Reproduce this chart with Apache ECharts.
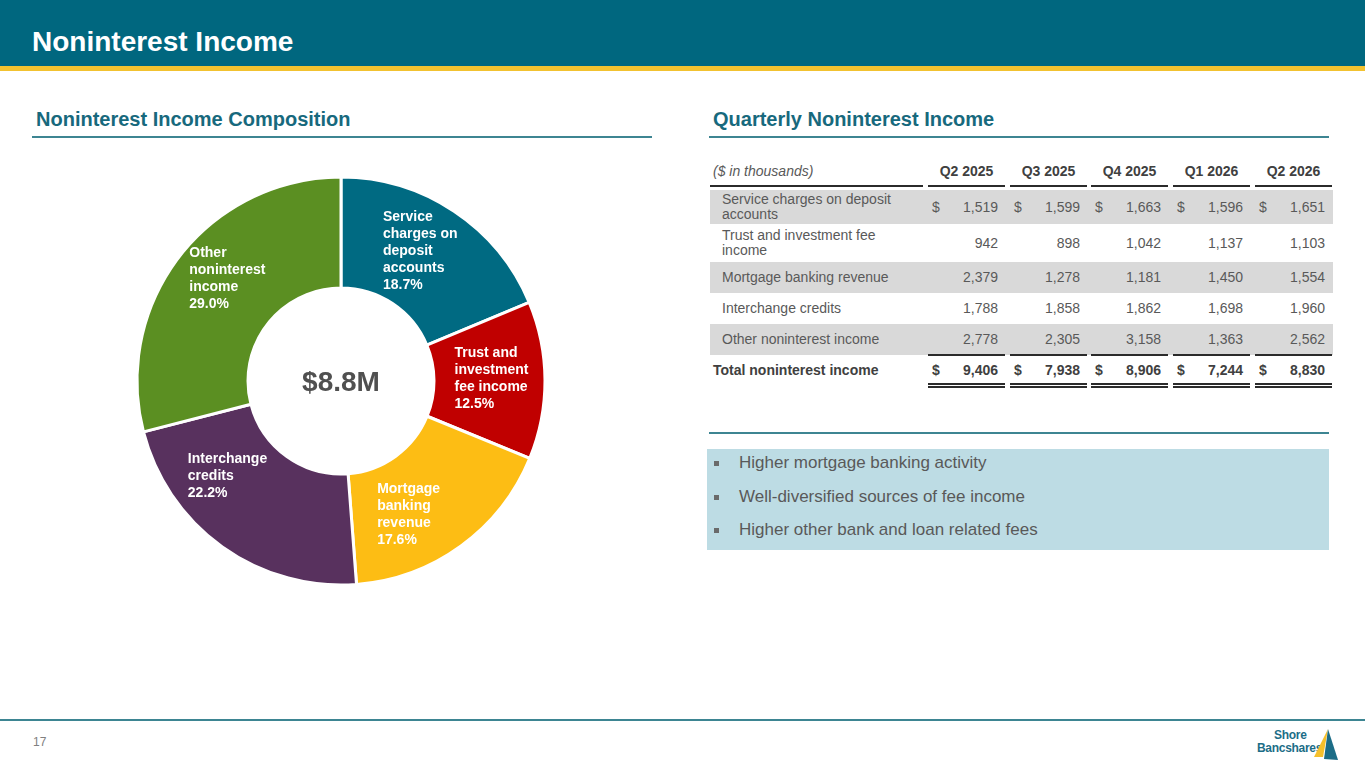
<!DOCTYPE html>
<html lang="en">
<head>
    <meta charset="UTF-8">
    <title>Noninterest Income</title>
    <script src="https://cdn.jsdelivr.net/npm/echarts@6/dist/echarts.min.js"></script>
    <style>
        body {
            margin: 0;
            width: 1365px;
            height: 768px;
            overflow: hidden;
            position: relative;
            background: #fff;
            font-family: 'Liberation Sans', Arial, sans-serif;
        }
        .abs { position: absolute; }
        #header { left: 0; top: 0; width: 1365px; height: 66px; background: #00677f; }
        #stripe { left: 0; top: 66px; width: 1365px; height: 5px; background: #f2c230; }
        #title { left: 32px; top: 22px; line-height: 40px; font-size: 28px; font-weight: bold; color: #fff; }
        .subtitle { top: 107px; line-height: 24px; font-size: 20px; font-weight: bold; color: #17697d; }
        .rule { height: 2px; background: #3d8592; }
        #pie { left: 0; top: 71px; width: 690px; height: 640px; }
        .cell { position: absolute; font-size: 14px; color: #595959; white-space: nowrap; }
        .hline { position: absolute; height: 2px; background: #2b2b2b; }
        .gray { position: absolute; background: #d9d9d9; }
        #note { left: 707px; top: 449px; width: 622px; height: 101px; background: #bddce4; }
        .bullet { position: absolute; font-size: 17px; color: #595959; line-height: 22px; white-space: nowrap; }
        .sq { position: absolute; width: 5px; height: 5px; background: #6a6a6a; }
        #pageno { left: 33px; top: 735px; font-size: 12px; color: #808080; }
        .logo { position: absolute; font-weight: bold; color: #1c6d87; font-size: 12px; letter-spacing: -0.3px; }
    </style>
</head>
<body>
    <div class="abs" id="header"></div>
    <div class="abs" id="stripe"></div>
    <div class="abs" id="title">Noninterest Income</div>

    <div class="abs subtitle" style="left:36px;">Noninterest Income Composition</div>
    <div class="abs rule" style="left:32px; top:136px; width:620px;"></div>
    <div class="abs subtitle" style="left:713px;">Quarterly Noninterest Income</div>
    <div class="abs rule" style="left:709px; top:136px; width:620px;"></div>

    <div class="abs" id="pie"></div>
    <div class="abs" id="table"></div>

    <div class="abs rule" style="left:709px; top:432px; width:620px;"></div>
    <div class="abs" id="note"></div>

    <div class="abs rule" style="left:0; top:719px; width:1365px;"></div>
    <div class="abs" id="pageno">17</div>
    <div class="logo" style="left:1274px; top:728px;">Shore</div>
    <div class="logo" style="left:1257px; top:741px;">Bancshares</div>
    <svg class="abs" style="left:1310px; top:726px;" width="30" height="36">
        <polygon points="18,3 4,31 13,31" fill="#f5c02c"/>
        <polygon points="18,3 14,33 28,34" fill="#1c6d87"/>
    </svg>

    <script>
        // 表格数据 ($ in thousands)
        var quarters = ['Q2 2025', 'Q3 2025', 'Q4 2025', 'Q1 2026', 'Q2 2026'];
        var rowNames = ['Service charges on deposit accounts', 'Trust and investment fee income',
                        'Mortgage banking revenue', 'Interchange credits', 'Other noninterest income'];
        var serviceCharges = [1519, 1599, 1663, 1596, 1651];
        var trustFees = [942, 898, 1042, 1137, 1103];
        var mortgageRevenue = [2379, 1278, 1181, 1450, 1554];
        var interchangeCredits = [1788, 1858, 1862, 1698, 1960];
        var otherIncome = [2778, 2305, 3158, 1363, 2562];
        var totalIncome = [9406, 7938, 8906, 7244, 8830];

        // 饼图标签
        var pieLabels = ['Service\ncharges on\ndeposit\naccounts', 'Trust and\ninvestment\nfee income',
                         'Mortgage\nbanking\nrevenue', 'Interchange\ncredits', 'Other\nnoninterest\nincome'];
        var bullets = ['Higher mortgage banking activity', 'Well-diversified sources of fee income',
                       'Higher other bank and loan related fees'];

        var rows = [serviceCharges, trustFees, mortgageRevenue, interchangeCredits, otherIncome];

        // ---- 表格 ----
        var table = document.getElementById('table');
        function add(cls, css, text, parent) {
            var d = document.createElement('div');
            d.className = cls;
            d.style.cssText = css;
            if (text != null) d.textContent = text;
            (parent || table).appendChild(d);
            return d;
        }
        function fmt(v) { return v.toLocaleString('en-US'); }

        var colLeft = [928, 1010, 1091, 1173, 1255];
        var colW = 77;
        var rowTop = [190, 224, 262, 293, 324];
        var rowH = [34, 38, 31, 31, 31];

        // 表头
        add('cell', 'left:713px; top:163px; font-style:italic;', '($ in thousands)');
        add('hline', 'left:710px; top:185px; width:213px;');
        quarters.forEach(function(q, i) {
            add('cell', 'left:' + colLeft[i] + 'px; top:163px; width:' + colW + 'px; text-align:center; font-weight:bold; color:#404040;', q);
            add('hline', 'left:' + colLeft[i] + 'px; top:185px; width:' + colW + 'px;');
        });

        rows.forEach(function(vals, r) {
            var top = rowTop[r], h = rowH[r];
            if (r % 2 === 0) add('gray', 'left:710px; top:' + top + 'px; width:623px; height:' + h + 'px;');
            var lbl = add('cell', 'left:722px; top:' + top + 'px; width:185px; height:' + h + 'px; white-space:normal; line-height:15px; display:flex; align-items:center;');
            lbl.textContent = rowNames[r];
            vals.forEach(function(v, i) {
                var css = 'top:' + top + 'px; height:' + h + 'px; line-height:' + h + 'px;';
                if (r === 0) add('cell', css + 'left:' + (colLeft[i] + 4) + 'px;', '$');
                add('cell', css + 'left:' + colLeft[i] + 'px; width:' + (colW - 7) + 'px; text-align:right;', fmt(v));
            });
        });

        // 合计
        quarters.forEach(function(q, i) {
            add('hline', 'left:' + colLeft[i] + 'px; top:354px; width:' + colW + 'px;');
            add('hline', 'left:' + colLeft[i] + 'px; top:383px; width:' + colW + 'px; height:1px; background:none; border-top:2px solid #2b2b2b; border-bottom:2px solid #2b2b2b;');
            var css = 'top:362px; font-weight:bold; color:#404040;';
            add('cell', css + 'left:' + (colLeft[i] + 4) + 'px;', '$');
            add('cell', css + 'left:' + colLeft[i] + 'px; width:' + (colW - 7) + 'px; text-align:right;', fmt(totalIncome[i]));
        });
        add('cell', 'left:713px; top:362px; font-weight:bold; color:#404040;', 'Total noninterest income');

        // 要点
        bullets.forEach(function(b, i) {
            var y = 463 + i * 33.5;
            add('sq', 'left:714px; top:' + (y - 2) + 'px;', null, document.body);
            add('bullet', 'left:739px; top:' + (y - 11) + 'px;', b, document.body);
        });

        // ---- 饼图 ----
        var pieValues = rows.map(function(r) { return r[r.length - 1]; });
        var pieColors = ['#006a82', '#c00000', '#fdbd14', '#58315e', '#5b8f22'];
        var labelOffsets = [[0, -4], [4, -2], [-11, 11], [-23, -28], [10, -10]];
        var total = pieValues.reduce(function(a, b) { return a + b; }, 0);

        var myChart = echarts.init(document.getElementById('pie'));
        var option = {
            animation: false,
            graphic: [{
                type: 'text',
                x: 341,
                y: 312,
                style: {
                    text: '$' + (total / 1000).toFixed(1) + 'M',
                    fill: '#505050',
                    fontSize: 28,
                    fontWeight: 'bold',
                    fontFamily: 'Liberation Sans',
                    align: 'center',
                    verticalAlign: 'middle'
                }
            }],
            series: [{
                type: 'pie',
                center: [341, 310],
                radius: [93, 204],
                startAngle: 90,
                clockwise: true,
                percentPrecision: 1,
                emphasis: { disabled: true },
                itemStyle: { borderColor: '#fff', borderWidth: 3 },
                labelLine: { show: false },
                label: {
                    show: true,
                    position: 'inside',
                    width: 84,
                    color: '#fff',
                    formatter: function(p) {
                        var lines = pieLabels[p.dataIndex].split('\n');
                        lines.push(p.percent.toFixed(1) + '%');
                        return lines.map(function(l) { return '{t|' + l + '}'; }).join('\n');
                    },
                    rich: {
                        t: {
                            align: 'left',
                            color: '#fff',
                            fontSize: 14,
                            fontWeight: 'bold',
                            fontFamily: 'Liberation Sans',
                            lineHeight: 17
                        }
                    }
                },
                data: pieValues.map(function(v, i) {
                    return {
                        value: v,
                        name: rowNames[i],
                        itemStyle: { color: pieColors[i] },
                        label: { offset: labelOffsets[i] }
                    };
                })
            }]
        };
        myChart.setOption(option);
    </script>
</body>
</html>
